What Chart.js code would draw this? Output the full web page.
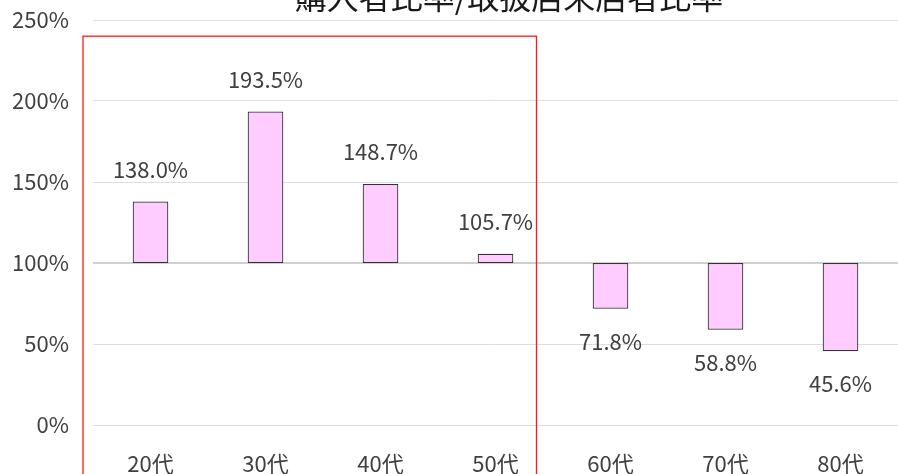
<!DOCTYPE html>
<html>
<head>
<meta charset="utf-8">
<script src="https://cdn.jsdelivr.net/npm/chart.js@4/dist/chart.umd.min.js"></script>
<style>
  html, body { margin: 0; padding: 0; background: #fff; }
  #wrap { width: 898px; height: 474px; position: relative; }
</style>
</head>
<body>
<div id="wrap"><canvas id="ratio-chart"></canvas></div>
<script>
// 데이터
const titleText = "購入者比率/取扱店来店者比率";
const categories = ["20代", "30代", "40代", "50代", "60代", "70代", "80代"];
const ratioValues = [138.0, 193.5, 148.7, 105.7, 71.8, 58.8, 45.6];
const baseValue = 100;
const yTicks = [0, 50, 100, 150, 200, 250];

const FONT = "'Noto Sans CJK JP', 'Noto Sans', sans-serif";
const TEXT_COLOR = "#404040";

// 라벨 + 빨간 박스 + 제목
const overlayPlugin = {
    id: "overlay",
    afterDatasetsDraw(chart) {
        const ctx = chart.ctx;
        const meta = chart.getDatasetMeta(0);
        const yScale = chart.scales.y;
        const xScale = chart.scales.x;

        ctx.save();
        ctx.font = "22px " + FONT;
        ctx.fillStyle = TEXT_COLOR;
        ctx.textAlign = "center";
        ctx.textBaseline = "middle";
        meta.data.forEach(function (bar, i) {
            const v = ratioValues[i];
            const yEnd = yScale.getPixelForValue(v);
            const y = v >= baseValue ? yEnd - 32 : yEnd + 33;
            ctx.fillText(v.toFixed(1) + "%", bar.x, y);
        });

        // 빨간 테두리 (20代~50代)
        const left = chart.chartArea.left - 10;
        const right = xScale.getPixelForValue(3) + 41;
        const top = yScale.getPixelForValue(240);
        ctx.strokeStyle = "#ff1a1a";
        ctx.lineWidth = 1.3;
        ctx.strokeRect(left, top, right - left, chart.height + 20 - top);

        // 제목 (위쪽이 잘림)
        ctx.font = "32px " + FONT;
        ctx.fillStyle = "#1a1a1a";
        ctx.textBaseline = "middle";
        ctx.fillText(titleText, 509, -3);
        ctx.restore();
    }
};

new Chart(document.getElementById("ratio-chart"), {
    type: "bar",
    data: {
        labels: categories,
        datasets: [{
            data: ratioValues.map(function (v) { return [baseValue, v]; }),
            backgroundColor: "#ffccff",
            borderColor: "#333333",
            borderWidth: 1.2,
            borderSkipped: false,
            categoryPercentage: 1,
            barPercentage: 0.31
        }]
    },
    options: {
        responsive: true,
        maintainAspectRatio: false,
        animation: false,
        layout: { padding: { top: 20, right: 0, left: 0, bottom: 0 } },
        plugins: {
            legend: { display: false },
            title: { display: false },
            tooltip: { enabled: false }
        },
        scales: {
            x: {
                grid: { display: false },
                border: { display: false },
                ticks: {
                    color: TEXT_COLOR,
                    font: { family: FONT, size: 22, lineHeight: 1 },
                    padding: 20,
                    maxRotation: 0
                },
                afterFit(scale) {
                    scale.height = 49;
                    scale.paddingLeft = 0;
                    scale.paddingRight = 0;
                }
            },
            y: {
                min: 0,
                max: 250,
                afterBuildTicks(scale) {
                    scale.ticks = yTicks.map(function (v) { return { value: v }; });
                },
                grid: {
                    color: function (c) { return c.tick && c.tick.value === baseValue ? "#d0d0d0" : "#dedede"; },
                    lineWidth: function (c) { return c.tick && c.tick.value === baseValue ? 2 : 1; },
                    drawTicks: false
                },
                border: { display: false },
                ticks: {
                    color: TEXT_COLOR,
                    font: { family: FONT, size: 22 },
                    padding: 24,
                    callback: function (v) { return v + "%"; }
                },
                afterFit(scale) {
                    scale.width = 93;
                    scale.paddingTop = 0;
                    scale.paddingBottom = 0;
                }
            }
        }
    },
    plugins: [overlayPlugin]
});
</script>
</body>
</html>
